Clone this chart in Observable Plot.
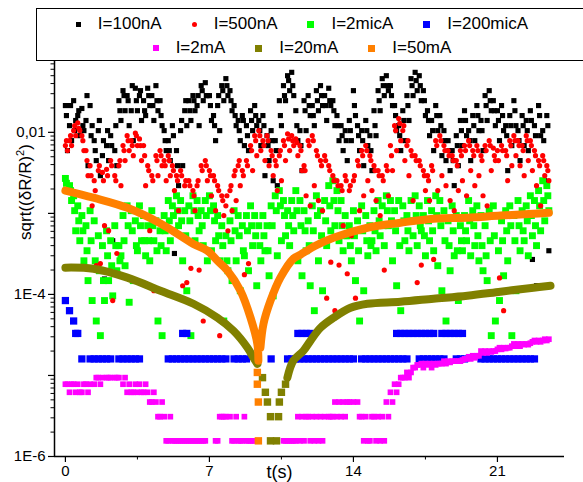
<!DOCTYPE html>
<html><head><meta charset="utf-8">
<script src="https://cdn.jsdelivr.net/npm/d3@7"></script>
<script src="https://cdn.jsdelivr.net/npm/@observablehq/plot@0.6"></script>
<style>
body{margin:0;background:#fff;}
#wrap{position:relative;width:583px;height:482px;overflow:hidden;font-family:'Liberation Sans',Arial,sans-serif;}
#chart{position:absolute;left:0;top:0;}
#legend{position:absolute;left:36px;top:8px;width:600px;height:53px;border:1px solid #000;background:#fff;box-sizing:border-box;}
.row{position:absolute;left:0;width:530px;display:flex;justify-content:center;align-items:center;font-size:17px;color:#000;}
.item{display:flex;align-items:center;margin:0 15px;}
.mk{display:inline-block;margin-right:17px;}
</style></head>
<body><div id="wrap"><div id="chart"></div><div id="legend"></div></div>
<script>
// sampling step of the recorded series (s)
const STEP = 0.2;
const seriesNames = ["I=100nA","I=500nA","I=2micA","I=200micA","I=2mA","I=20mA","I=50mA"];
const seriesColors = ["#000000","#ff0000","#00ff00","#0000ff","#ff00ff","#808000","#ff8000"];

// I=100nA (samples at t = i*STEP, i*STEP + 0.1, i*STEP + 0.05)
const blackA = [0.0214,0.0121,0.0246,0.0161,0.0197,0.0140,0.0214,0.0079,0.0105,0.00516,
0.00686,0.0091,0.00595,0.0246,0.0327,0.0284,0.0185,0.035,0.0284,0.0246,
0.035,0.0284,0.0377,0.0246,0.0105,0.0079,0.0121,0.00595,0.0105,0.0185,
0.0246,0.0284,0.0214,0.0377,0.041,0.0284,0.0161,0.0214,0.0377,0.046,
0.0327,0.0214,0.0140,0.0161,0.0121,0.0185,0.0214,0.0140,0.0161,0.0091,
0.0105,0.0079,0.0246,0.0377,0.050,0.055,0.0185,0.0105,0.0246,0.0284,
0.0214,0.0327,0.0377,0.0284,0.035,0.0246,0.0161,0.0121,0.0105,0.0140,
0.0327,0.0121,0.0105,0.0140,0.0091,0.0185,0.0327,0.046,0.050,0.0377,
0.0214,0.0121,0.0185,0.0284,0.046,0.055,0.050,0.0327,0.0185,0.0140,
0.0214,0.0161,0.0105,0.0079,0.00595,0.0091,0.0140,0.0185,0.0105,0.0161,
0.0214,0.0140,0.0284,0.0327,0.0246,0.0185,0.0214,0.0121,0.0161,0.0246,
0.0105,0.0161,0.0140,0.0185,0.0121,0.0214,0.0105,0.0161];
const blackB = [0.00595,0.0079,0.0140,0.0091,0.0105,0.00388,0.0121,0.00448,0.00292,1.55e-4,
0.00448,4.6e-4,0.00388,0.0140,0.0185,0.0121,0.0079,0.0185,0.0140,0.0161,
0.0214,0.0140,0.0185,0.0121,0.00595,0.00448,3.2e-4,0.00220,0.00388,0.0121,
0.0140,0.0185,0.0121,0.0246,0.0284,0.0140,0.0079,0.0105,0.0246,0.0284,
0.0185,0.0121,0.0079,0.00686,0.00595,0.0105,0.0121,0.00686,0.00292,0.00448,
0.00253,0.00220,0.0121,0.0246,0.0327,0.0284,0.0079,0.00337,0.0105,0.0161,
0.0121,0.0185,0.0214,0.0140,0.0214,0.0121,0.0079,0.00595,0.00448,0.0079,
0.0161,0.00595,0.00388,0.00686,0.00337,0.0091,0.0185,0.0284,0.0327,0.0214,
0.0105,0.00595,0.0079,0.0140,0.0284,0.0327,0.0246,0.0161,0.0091,0.00595,
0.0105,0.00516,0.00448,0.00337,0.00220,0.00388,0.00686,0.0091,0.00448,0.0079,
0.0105,0.00595,0.0140,0.0185,0.0121,0.0079,0.0105,0.00337,0.00686,0.0121,
0.00448,0.00686,0.00595,2.7e-4,1.28e-4,0.0091,0.00253,3.46e-4];
const blackC = [0.0161,0.0214,0.0105,0.0185,0.0121,0.0284,0.0091,0.00595,0.0140,0.0079,
0.0105,0.00686,0.0121,0.0185,0.0284,0.0246,0.0377,0.0246,0.0327,0.0185,
0.0284,0.0214,0.0246,0.0161,0.0079,0.00595,0.0091,0.00388,0.0140,0.0246,
0.0185,0.0246,0.0284,0.0327,0.0284,0.0214,0.0121,0.0284,0.0327,0.0377,
0.0246,0.0161,0.0105,0.0140,0.0091,0.0140,0.0161,0.0105,0.0121,0.00686,
0.0079,0.00595,0.0161,0.0284,0.0435,0.0377,0.0121,0.00686,0.0185,0.0214,
0.0161,0.0246,0.0284,0.0214,0.0246,0.0185,0.0121,0.0091,0.0079,0.0105,
0.0214,0.0091,0.0079,0.0105,0.00595,0.0121,0.0246,0.0377,0.0377,0.0284,
0.0161,0.0091,0.0140,0.0214,0.0377,0.0435,0.0377,0.0246,0.0140,0.0105,
0.0161,0.0121,0.0079,0.00595,0.00448,0.00686,0.0105,0.0140,0.0079,0.0121,
0.0161,0.0105,0.0214,0.0246,0.0185,0.0140,0.0161,0.0091,0.0121,0.0185,
0.0079,0.0121,0.0105,0.0140,0.0091,0.0161,0.0079,0.0121];

// I=500nA
const redA = [0.00686,0.0079,0.0105,0.0131,0.0091,0.00595,0.00388,0.00253,0.00337,0.0032,
0.0035,0.00448,0.00292,0.00388,0.00686,0.0091,0.0079,0.0098,0.0083,0.00686,
0.00388,0.00292,0.00516,0.00595,0.00448,0.00516,0.00388,0.00292,0.00337,0.0022,
0.00253,0.00191,0.0022,0.00388,0.00448,0.00337,0.00292,0.0022,0.00165,0.00124,
0.00191,0.00292,0.00388,0.00337,0.00448,0.00686,0.0091,0.0105,0.0079,0.0091,
0.00595,0.00448,0.00516,0.0079,0.0096,0.0091,0.0083,0.00686,0.00388,0.0079,
0.0091,0.00595,0.00448,0.00516,0.00388,0.00292,0.00253,0.0022,0.00292,0.00191,
0.00253,0.00448,0.00595,0.00686,0.00516,0.00388,0.00337,0.00292,0.00388,0.00686,
0.0121,0.0148,0.0105,0.00686,0.00595,0.00516,0.00448,0.00337,0.00292,0.00388,
0.0079,0.0091,0.00686,0.00595,0.00516,0.00448,0.00595,0.00686,0.0079,0.00595,
0.00686,0.00516,0.00686,0.0079,0.0064,0.00595,0.00686,0.00595,0.0079,0.0091,
0.0079,0.00686,0.0091,0.0079,0.00595,0.00448,0.00516,0.00388];
const redB = [0.00595,0.00686,0.0091,0.0105,0.00595,0.00292,0.00124,2.26e-4,2.4e-4,7.05e-4,
6.11e-4,8.4e-5,3.2e-4,0.0022,0.00448,0.00595,0.00516,0.00686,0.00448,0.0022,
6.11e-4,1.11e-4,0.00292,0.00388,0.00253,0.00292,0.00191,0.00108,1.28e-4,1.4e-4,
2.1e-4,0.00108,2.0e-4,4.7e-5,0.00253,0.00165,0.00108,3.1e-5,9.4e-4,6.1e-4,
0.00108,0.00144,0.0022,1.75e-4,2.4e-4,0.00337,0.00516,0.00595,0.00448,0.00388,
0.00292,0.00191,0.00253,0.00448,0.00595,0.00686,0.00516,0.00337,0.00165,0.00124,
0.0022,0.00144,0.00108,9.0e-5,2.5e-4,6.3e-5,2.3e-4,7.05e-4,1.8e-4,5.3e-4,
9.0e-5,0.00108,0.00165,0.00253,0.00191,0.00144,9.4e-4,2.0e-4,0.00165,0.00337,
0.00595,0.0079,0.00448,0.00292,0.00144,1.4e-4,2.3e-4,0.00191,0.00144,2.7e-4,
0.00191,0.00292,0.0022,0.00144,0.00108,0.00191,0.00253,0.00165,0.00337,0.0022,
0.00292,0.00165,0.00124,0.00337,0.00448,1.6e-4,6.3e-5,0.00253,0.00388,0.00516,
0.00388,0.00292,0.00448,0.00337,0.0022,0.00124,0.00292,0.00253];
const redC = [0.0079,0.0091,0.0121,0.0112,0.0079,0.00448,0.00292,0.00191,0.00388,0.00253,
0.00292,0.00388,0.00253,0.00448,0.00595,0.0079,0.00686,0.0091,0.00686,0.00516,
0.00337,0.00253,0.00448,0.00516,0.00388,0.00448,0.00337,0.00253,0.00292,0.00253,
0.0022,0.00165,0.00253,0.00337,0.00388,0.00292,0.00253,0.00191,0.00144,0.00165,
0.0022,0.00337,0.00448,0.00292,0.00388,0.00595,0.0079,0.0091,0.00686,0.0079,
0.00516,0.00388,0.00595,0.00686,0.0083,0.0079,0.0075,0.00595,0.00337,0.00686,
0.0079,0.00516,0.00388,0.00448,0.00337,0.00253,0.0022,0.00191,0.00253,0.0022,
0.00292,0.00388,0.00516,0.00595,0.00448,0.00337,0.00292,0.00253,0.00337,0.00516,
0.0105,0.0129,0.0121,0.0079,0.00516,0.00448,0.00388,0.00292,0.00253,0.00337,
0.00686,0.0079,0.00595,0.00516,0.00448,0.00388,0.00516,0.00595,0.00686,0.00516,
0.00595,0.00448,0.00595,0.00686,0.00516,0.00448,0.00595,0.00516,0.00686,0.0079,
0.00686,0.00595,0.0079,0.00686,0.00516,0.00388,0.00448,0.00337];

// I=2micA
const greenA = [0.0027,0.0022,0.00165,0.00124,9.4e-4,7.05e-4,0.00108,8.1e-4,5.3e-4,4.0e-4,
6.1e-4,4.6e-4,7.05e-4,4.0e-4,9.4e-4,0.00124,0.00108,8.1e-4,0.00124,9.4e-4,
7.05e-4,0.00108,8.1e-4,6.1e-4,9.4e-4,0.00144,0.00124,0.00165,0.00144,0.00108,
0.00124,0.00165,0.00144,0.00108,0.00144,0.00165,0.00124,9.4e-4,7.05e-4,5.3e-4,
8.1e-4,0.00108,9.4e-4,7.05e-4,9.4e-4,0.00124,9.4e-4,7.05e-4,9.4e-4,7.05e-4,
0.00124,0.00165,0.00191,0.00144,0.00108,0.00144,0.00191,0.00144,0.00108,8.1e-4,
0.00124,0.00165,0.00108,0.00144,0.0022,0.00253,0.00191,0.00144,9.4e-4,7.05e-4,
0.00108,8.1e-4,0.00124,9.4e-4,7.05e-4,0.00108,0.00144,0.00124,0.00165,0.00144,
0.00108,0.00144,0.00124,9.4e-4,0.00144,0.00165,0.00124,9.4e-4,0.00144,0.00108,
0.00165,0.00144,0.00108,8.1e-4,0.00124,9.4e-4,7.05e-4,9.4e-4,0.00144,0.00108,
0.00124,9.4e-4,7.05e-4,0.00108,0.00124,9.4e-4,8.1e-4,0.00108,0.00124,9.4e-4,
0.00144,0.00108,0.00124,0.00165,0.00144,0.00191,0.00253,0.0022];
const greenB = [0.00191,0.00144,6.1e-4,4.6e-4,2.6e-4,1.48e-4,8.4e-5,4.7e-5,3.1e-5,8.4e-5,
1.48e-4,9.6e-5,1.96e-4,3.0e-4,2.26e-4,8.0e-5,1.48e-4,3.46e-4,4.6e-4,3.0e-4,
2.6e-4,4.6e-4,4.7e-5,3.1e-5,3.46e-4,4.6e-4,6.1e-4,7.05e-4,2.6e-4,1.11e-4,
3.1e-5,4.6e-4,6.1e-4,4.0e-4,2.6e-4,3.46e-4,4.6e-4,2.6e-4,4.7e-5,1.96e-4,
1.48e-4,2.6e-4,1.11e-4,3.0e-4,1.96e-4,4.0e-4,1.28e-4,2.6e-4,3.46e-4,1.7e-4,
9.6e-5,3.0e-4,4.6e-4,5.3e-4,4.0e-4,6.1e-4,2.6e-4,1.7e-4,3.46e-4,1.28e-4,
6.3e-5,2.6e-4,1.11e-4,4.0e-4,6.1e-4,7.05e-4,4.6e-4,3.46e-4,5.3e-4,2.6e-4,
1.48e-4,4.7e-5,1.11e-4,3.0e-4,4.6e-4,3.46e-4,5.3e-4,4.0e-4,7.05e-4,2.6e-4,
1.28e-4,6.3e-5,4.6e-4,3.46e-4,5.3e-4,4.0e-4,6.1e-4,3.0e-4,4.6e-4,3.46e-4,
2.26e-4,1.11e-4,4.7e-5,1.96e-4,3.0e-4,8.4e-5,3.46e-4,4.6e-4,3.0e-4,4.0e-4,
2.6e-4,1.96e-4,1.48e-4,3.1e-5,4.7e-5,8.4e-5,1.7e-4,2.6e-4,3.1e-5,1.11e-4,
3.46e-4,4.6e-4,3.0e-4,5.3e-4,4.0e-4,6.1e-4,8.1e-4,0.00108];
const greenC = [0.00235,0.00191,0.00108,8.1e-4,6.1e-4,3.46e-4,4.6e-4,2.6e-4,1.96e-4,1.48e-4,
3.0e-4,2.26e-4,4.0e-4,2.6e-4,4.6e-4,7.05e-4,6.1e-4,4.0e-4,7.05e-4,4.6e-4,
4.6e-4,7.05e-4,3.46e-4,4.0e-4,6.1e-4,8.1e-4,9.4e-4,0.00108,8.1e-4,5.3e-4,
8.1e-4,0.00108,9.4e-4,7.05e-4,9.4e-4,0.00108,8.1e-4,5.3e-4,4.0e-4,2.6e-4,
4.6e-4,6.1e-4,5.3e-4,3.46e-4,6.1e-4,7.05e-4,5.3e-4,4.0e-4,5.3e-4,3.46e-4,
7.05e-4,0.00108,0.00124,9.4e-4,7.05e-4,9.4e-4,0.00108,7.05e-4,6.1e-4,4.0e-4,
6.1e-4,9.4e-4,5.3e-4,8.1e-4,0.00124,0.00144,0.00108,7.05e-4,5.3e-4,4.0e-4,
5.3e-4,3.46e-4,6.1e-4,4.6e-4,4.0e-4,6.1e-4,8.1e-4,7.05e-4,0.00108,8.1e-4,
6.1e-4,4.0e-4,8.1e-4,6.1e-4,8.1e-4,9.4e-4,7.05e-4,5.3e-4,8.1e-4,6.1e-4,
9.4e-4,7.05e-4,4.6e-4,4.0e-4,6.1e-4,3.46e-4,4.6e-4,6.1e-4,8.1e-4,7.05e-4,
5.3e-4,4.0e-4,3.0e-4,4.6e-4,5.3e-4,3.46e-4,4.6e-4,6.1e-4,7.05e-4,4.6e-4,
7.05e-4,6.1e-4,8.1e-4,9.4e-4,7.05e-4,0.00124,0.00144,0.00165];

// I=200micA
const blueA = [8.4e-5,6.3e-5,4.7e-5,3.3e-5,1.6e-5,null,1.6e-5,1.6e-5,1.6e-5,1.6e-5,
1.6e-5,1.6e-5,null,1.6e-5,1.6e-5,1.6e-5,1.6e-5,1.6e-5,1.6e-5,null,
null,null,null,null,null,1.6e-5,1.6e-5,1.6e-5,1.6e-5,1.6e-5,
1.6e-5,1.6e-5,1.6e-5,1.6e-5,1.6e-5,1.6e-5,1.6e-5,1.6e-5,1.6e-5,1.6e-5,
null,1.6e-5,1.6e-5,1.6e-5,1.6e-5,null,null,null,null,null,
1.6e-5,null,null,null,1.6e-5,1.6e-5,1.6e-5,1.6e-5,1.6e-5,1.6e-5,
1.6e-5,1.6e-5,1.6e-5,1.6e-5,1.6e-5,1.6e-5,1.6e-5,1.6e-5,1.6e-5,1.6e-5,
1.6e-5,null,1.6e-5,1.6e-5,1.6e-5,1.6e-5,1.6e-5,1.6e-5,1.6e-5,1.6e-5,
1.6e-5,1.6e-5,1.6e-5,1.6e-5,null,null,1.6e-5,1.6e-5,1.6e-5,1.6e-5,
1.6e-5,1.6e-5,1.6e-5,null,null,1.6e-5,1.6e-5,1.6e-5,null,null,
null,1.6e-5,1.6e-5,1.6e-5,1.6e-5,1.6e-5,1.6e-5,1.6e-5,1.6e-5,1.6e-5,
1.6e-5,1.6e-5,1.6e-5,1.6e-5,1.6e-5,null,null,null];
const blueB = [null,null,3.3e-5,null,null,null,null,null,null,null,
null,null,null,null,null,null,null,null,null,null,
null,null,null,null,null,null,null,null,3.3e-5,3.3e-5,
null,null,null,null,null,null,null,null,null,null,
null,null,null,null,null,null,null,null,null,null,
null,null,null,null,null,null,3.3e-5,3.3e-5,3.3e-5,3.3e-5,
null,null,null,null,null,null,null,null,null,null,
null,null,null,null,null,null,null,null,null,null,
3.3e-5,3.3e-5,3.3e-5,3.3e-5,3.3e-5,3.3e-5,3.3e-5,3.3e-5,3.3e-5,3.3e-5,
null,3.3e-5,3.3e-5,3.3e-5,3.3e-5,3.3e-5,3.3e-5,null,null,null,
null,null,null,null,null,null,null,null,null,null,
null,null,null,null,null,null,null,null];

// I=2mA
const magentaA = [7.8e-6,6.2e-6,7.8e-6,7.8e-6,6.2e-6,7.8e-6,7.8e-6,7.8e-6,9.4e-6,9.4e-6,
9.4e-6,9.4e-6,9.4e-6,9.4e-6,7.8e-6,6.2e-6,6.2e-6,7.8e-6,7.8e-6,6.2e-6,
6.2e-6,4.7e-6,4.7e-6,3.1e-6,3.1e-6,1.56e-6,1.56e-6,1.56e-6,1.56e-6,1.56e-6,
1.56e-6,1.56e-6,1.56e-6,1.56e-6,1.56e-6,null,null,1.56e-6,3.1e-6,3.1e-6,
3.1e-6,1.56e-6,1.56e-6,1.56e-6,1.56e-6,1.56e-6,1.56e-6,null,null,null,
null,null,null,1.56e-6,1.56e-6,1.56e-6,1.56e-6,1.56e-6,1.56e-6,3.1e-6,
3.1e-6,3.1e-6,3.1e-6,3.1e-6,3.1e-6,3.1e-6,3.1e-6,3.1e-6,3.1e-6,4.7e-6,
4.7e-6,4.7e-6,3.1e-6,3.1e-6,1.56e-6,3.1e-6,3.1e-6,3.1e-6,4.7e-6,6.2e-6,
7.8e-6,7.8e-6,9.4e-6,1.09e-5,1.09e-5,1.25e-5,1.35e-5,1.25e-5,1.35e-5,1.25e-5,
1.35e-5,1.4e-5,1.5e-5,1.5e-5,1.5e-5,1.5e-5,1.5e-5,1.6e-5,1.7e-5,1.75e-5,
1.75e-5,2.0e-5,2.0e-5,2.0e-5,2.0e-5,2.1e-5,2.1e-5,2.15e-5,2.2e-5,2.45e-5,
2.45e-5,2.45e-5,2.45e-5,2.5e-5,2.7e-5,2.7e-5,2.7e-5,2.7e-5];
const magentaB = [7.8e-6,7.8e-6,6.2e-6,6.2e-6,7.8e-6,6.2e-6,null,9.4e-6,7.8e-6,null,
9.4e-6,null,9.4e-6,null,9.4e-6,7.8e-6,6.2e-6,6.2e-6,6.2e-6,7.8e-6,
4.7e-6,6.2e-6,3.1e-6,4.7e-6,1.56e-6,3.1e-6,1.56e-6,1.56e-6,1.56e-6,1.56e-6,
1.56e-6,1.56e-6,1.56e-6,1.56e-6,null,null,1.56e-6,3.1e-6,3.1e-6,null,
1.56e-6,3.1e-6,1.56e-6,3.1e-6,1.56e-6,1.56e-6,null,null,null,null,
null,null,null,1.56e-6,1.56e-6,1.56e-6,3.1e-6,3.1e-6,3.1e-6,1.56e-6,
1.56e-6,1.56e-6,1.56e-6,null,3.1e-6,4.7e-6,4.7e-6,4.7e-6,4.7e-6,null,
null,3.1e-6,1.56e-6,1.56e-6,3.1e-6,1.56e-6,1.56e-6,1.56e-6,3.1e-6,4.7e-6,
6.2e-6,9.4e-6,9.4e-6,9.4e-6,1.25e-5,1.35e-5,1.4e-5,1.4e-5,1.4e-5,1.4e-5,
1.4e-5,1.4e-5,1.4e-5,1.45e-5,1.5e-5,1.5e-5,1.55e-5,1.6e-5,1.6e-5,1.65e-5,
1.75e-5,1.9e-5,1.9e-5,1.95e-5,2.0e-5,2.2e-5,2.2e-5,2.2e-5,2.3e-5,2.3e-5,
2.3e-5,2.4e-5,2.4e-5,2.6e-5,2.6e-5,2.6e-5,2.8e-5,2.8e-5];

// I=20mA (smooth branches; null separates the two branches)
const oliveT = [0,1.36,3.01,4.62,6.22,7.39,8.17,8.85,9.14,9.33,10.0,10.79,11.08,11.57,11.91,12.40,13.03,13.86,14.68,16.29,17.89,19.54,21.15,22.75,23.58];
const oliveV = [2.14e-4,2.07e-4,1.61e-4,1.11e-4,7.67e-5,5.15e-5,3.56e-5,2.2e-5,1.66e-5,1.39e-5,null,9.4e-6,1.52e-5,2.02e-5,2.68e-5,3.88e-5,5.15e-5,6.85e-5,7.67e-5,8.13e-5,8.85e-5,9.64e-5,1.08e-4,1.21e-4,1.28e-4];
const oliveDipT = [9.58,9.72,9.82,9.97,9.97,10.26,10.36,10.40,10.50,10.70];
const oliveDipV = [9.4e-6,6.2e-6,4.7e-6,3.1e-6,1.56e-6,1.56e-6,3.1e-6,4.7e-6,6.2e-6,7.8e-6];

// I=50mA
const orangeT = [0,1.36,3.01,4.62,6.22,6.90,7.39,7.88,8.51,9.00,9.33,9.38,9.43,9.48,9.63,9.97,10.45,11.08,11.42,12.15,13.03,14.68,16.29,17.89,19.54,21.15,22.75,23.5];
const orangeV = [1.91e-3,1.56e-3,1.17e-3,7.5e-4,4.2e-4,3.47e-4,2.6e-4,1.96e-4,1.11e-4,5.15e-5,2.46e-5,1.52e-5,null,2.2e-5,4.35e-5,8.36e-5,1.61e-4,2.76e-4,3.09e-4,3.99e-4,5.0e-4,6.65e-4,7.67e-4,8.6e-4,8.85e-4,9.4e-4,9.9e-4,1.02e-3];
const orangeDipT = [9.33,9.33,9.38,9.38];
const orangeDipV = [1.09e-5,7.8e-6,4.7e-6,1.56e-6];

// axes
const xMajor = [0,7,14,21];
const xMinor = [3.5,10.5,17.5];
const yMajor = [1e-6,1e-5,1e-4,1e-3,1e-2];
const yLabelText = new Map([[1e-6,"1E-6"],[1e-4,"1E-4"],[1e-2,"0,01"]]);
const yMinor = [];
for (let e = -6; e <= -2; e++) for (let m = 2; m <= 9; m++) { const v = m * Math.pow(10, e); if (v < 0.077) yMinor.push(v); }
const xDomain = [-0.53, 24.26];
const yDomain = [1e-6, 0.077];

function pts(arrs) {
  const offs = [0, STEP / 2, STEP / 4];
  const out = [];
  arrs.forEach((a, k) => a.forEach((v, i) => { if (v != null) out.push({t: i * STEP + offs[k], v}); }));
  return out;
}
const zip = (T, V) => T.map((t, i) => ({t, v: V[i]}));

const black = pts([blackA, blackB, blackC]), red = pts([redA, redB, redC]), green = pts([greenA, greenB, greenC]);
const blue = pts([blueA, blueB]), magenta = pts([magentaA, magentaB]);
const olive = zip(oliveT, oliveV), oliveDip = zip(oliveDipT, oliveDipV);
const orange = zip(orangeT, orangeV), orangeDip = zip(orangeDipT, orangeDipV);

const chart = Plot.plot({
  width: 583, height: 482,
  marginLeft: 54, marginRight: 19, marginTop: 60, marginBottom: 26,
  style: {fontFamily: "'Liberation Sans', Arial, sans-serif", fontSize: "15px", color: "#000", background: "transparent", overflow: "visible"},
  x: {domain: xDomain, axis: null},
  y: {type: "log", domain: yDomain, axis: null},
  marks: [
    Plot.dot(black, {x: "t", y: "v", symbol: "square", r: 2.9, fill: seriesColors[0]}),
    Plot.dot(green, {x: "t", y: "v", symbol: "square", r: 3.9, fill: seriesColors[2]}),
    Plot.dot(blue, {x: "t", y: "v", symbol: "square", r: 4.1, fill: seriesColors[3]}),
    Plot.dot(magenta, {x: "t", y: "v", symbol: "square", r: 3.2, fill: seriesColors[4]}),
    Plot.dot(red, {x: "t", y: "v", r: 2.6, fill: seriesColors[1]}),
    Plot.line(olive, {x: "t", y: "v", stroke: seriesColors[5], strokeWidth: 8, curve: "catmull-rom"}),
    Plot.dot(oliveDip, {x: "t", y: "v", symbol: "square", r: 4.2, fill: seriesColors[5]}),
    Plot.line(orange, {x: "t", y: "v", stroke: seriesColors[6], strokeWidth: 8, curve: "catmull-rom"}),
    Plot.dot(orangeDip, {x: "t", y: "v", symbol: "square", r: 4.2, fill: seriesColors[6]}),
    Plot.ruleX([xDomain[0]], {stroke: "#000", strokeWidth: 1.5}),
    Plot.ruleY([yDomain[0]], {stroke: "#000", strokeWidth: 1.5}),
    Plot.axisY(yMajor, {anchor: "left", label: null, tickSize: 6, tickPadding: 3, strokeWidth: 1.2, fontSize: 15, tickFormat: d => yLabelText.get(d) ?? ""}),
    Plot.axisY(yMinor, {anchor: "left", label: null, tickSize: 3.5, strokeWidth: 1, tickFormat: () => ""}),
    Plot.axisX(xMajor, {anchor: "bottom", label: null, tickSize: 6, tickPadding: 3, strokeWidth: 1.2, fontSize: 15, tickFormat: d => String(d)}),
    Plot.axisX(xMinor, {anchor: "bottom", label: null, tickSize: 3.5, strokeWidth: 1, tickFormat: () => ""}),
    Plot.text(["t(s)"], {frameAnchor: "bottom", dx: -30, dy: 21, fontSize: 18})
  ]
});
// y axis title with a raised exponent
const yt = d3.select(chart).append("text")
  .attr("transform", "translate(31,192) rotate(-90)")
  .attr("text-anchor", "middle")
  .attr("font-size", 17)
  .attr("fill", "#000");
yt.append("tspan").text("sqrt((δR/R)");
yt.append("tspan").attr("font-size", 11).attr("dy", -7).text("2");
yt.append("tspan").attr("dy", 7).text(")");
document.getElementById("chart").appendChild(chart);

// legend
const legend = document.getElementById("legend");
const rows = [[0,1,2,3],[4,5,6]];
const markSize = [5,5,7,7,6,7,7];
rows.forEach((r, ri) => {
  const row = document.createElement("div");
  row.className = "row";
  row.style.top = (ri === 0 ? 5 : 29) + "px";
  row.style.height = "20px";
  r.forEach(k => {
    const it = document.createElement("div"); it.className = "item";
    const mk = document.createElement("span"); mk.className = "mk";
    mk.style.width = markSize[k] + "px"; mk.style.height = markSize[k] + "px";
    mk.style.background = seriesColors[k];
    if (k === 1) mk.style.borderRadius = "50%";
    const tx = document.createElement("span"); tx.textContent = seriesNames[k];
    it.appendChild(mk); it.appendChild(tx); row.appendChild(it);
  });
  legend.appendChild(row);
});
</script></body></html>
